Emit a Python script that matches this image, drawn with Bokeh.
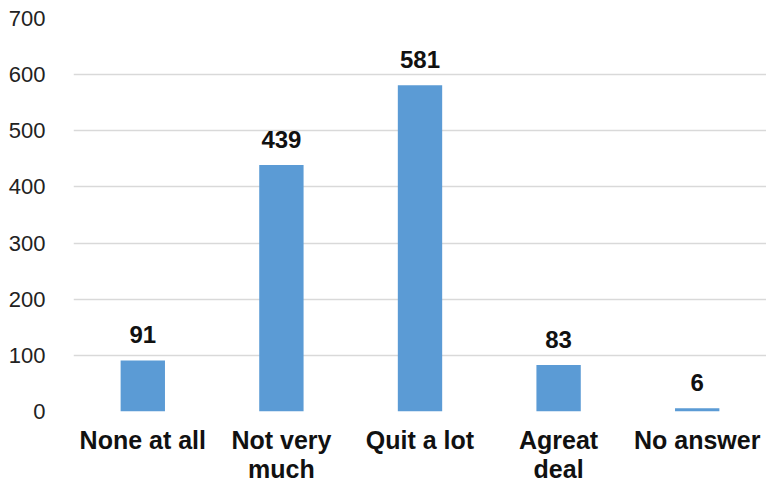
from bokeh.plotting import figure
from bokeh.models import ColumnDataSource, LinearAxis, FixedTicker
from bokeh.core.properties import value
from bokeh.embed import file_html
from bokeh.resources import INLINE

categories = ["None at all", "Not very much", "Quit a lot", "Agreat deal", "No answer"]
label_line1 = ["None at all", "Not very", "Quit a lot", "Agreat", "No answer"]
label_line2 = ["", "much", "", "deal", ""]
counts = [91, 439, 581, 83, 6]
y_ticks = [0, 100, 200, 300, 400, 500, 600, 700]

pos = [float(i) for i in range(len(categories))]
src = ColumnDataSource(dict(x=pos, cat=categories, val=counts, lbl=[str(v) for v in counts]))

p = figure(width=766, height=485, x_range=(-0.5, len(categories) - 0.5),
           y_range=(0, 700), output_backend="svg", toolbar_location=None,
           x_axis_location=None,
           min_border_left=73, min_border_right=0, min_border_top=18, min_border_bottom=0)
p.outline_line_color = None
p.background_fill_color = "white"
p.border_fill_color = "white"

p.vbar(x="x", top="val", width=0.32, source=src, fill_color="#5B9BD5", line_color=None)
p.text(x="x", y="val", text="lbl", source=src, text_align="center", text_baseline="bottom",
       y_offset=-17, text_font=value("Liberation Sans"), text_font_style="bold",
       text_font_size="24px", text_color="#111111")

p.yaxis.ticker = y_ticks
p.yaxis.axis_line_color = None
p.yaxis.major_tick_line_color = None
p.yaxis.minor_tick_line_color = None
p.yaxis.major_label_text_font = "Liberation Sans"
p.yaxis.major_label_text_font_size = "22px"
p.yaxis.major_label_text_color = "#222222"
p.yaxis.major_label_standoff = 22

def make_x(labels, standoff):
    ax = LinearAxis(ticker=FixedTicker(ticks=pos))
    ax.axis_line_color = None
    ax.major_tick_line_color = None
    ax.minor_tick_line_color = None
    ax.major_label_overrides = {x: t for x, t in zip(pos, labels)}
    ax.major_label_text_font = "Liberation Sans"
    ax.major_label_text_font_style = "bold"
    ax.major_label_text_font_size = "25px"
    ax.major_label_text_color = "#111111"
    ax.major_label_standoff = standoff
    p.add_layout(ax, "below")

make_x(label_line1, 8)
make_x(label_line2, -8)

p.xgrid.grid_line_color = None
p.ygrid.grid_line_color = "#d9d9d9"
p.ygrid.grid_line_width = 1.5

open("out.html", "w").write(file_html(p, INLINE))
